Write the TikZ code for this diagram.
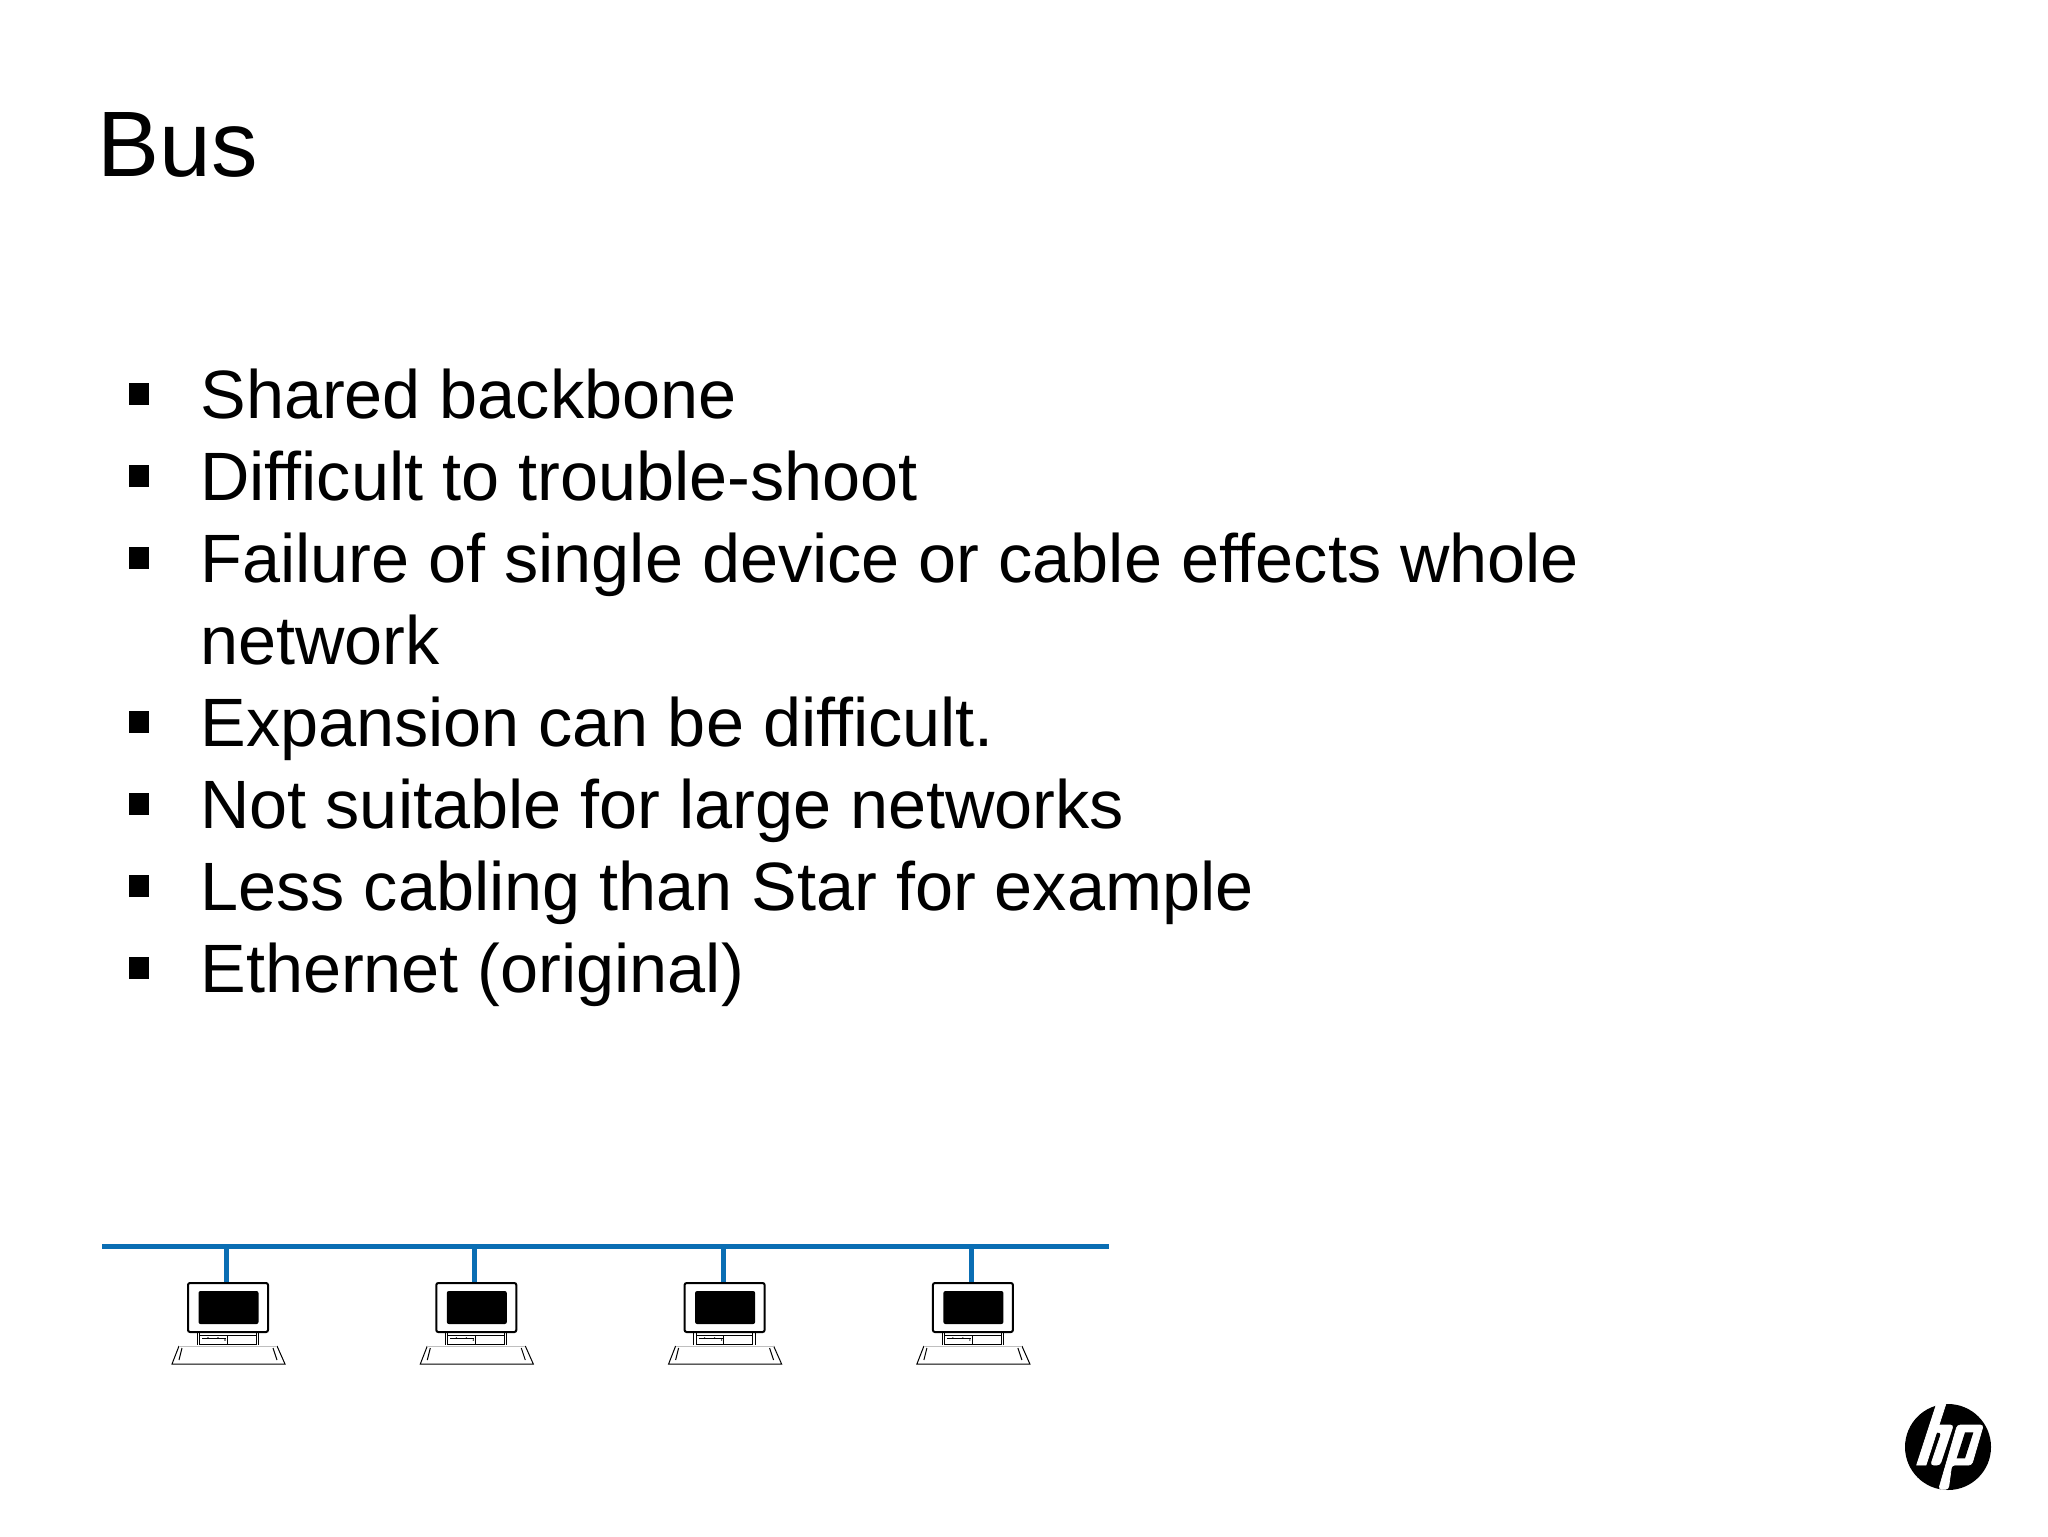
\documentclass[tikz,border=0pt]{standalone}
\usepackage{fontspec}
\setmainfont{Liberation Sans}
\definecolor{busblue}{HTML}{0A6EB4}
\tikzset{
 x=0.5pt,y=-0.5pt,
 title/.style={anchor=base west,inner sep=0,font=\fontsize{46.5}{46.5}\selectfont},
 body/.style={anchor=base west,inner sep=0,font=\fontsize{34.2}{34.2}\selectfont},
 bullet/.style={fill=black,inner sep=0,minimum width=10pt,minimum height=11pt,draw=none},
 wire/.style={draw=busblue,line width=2.5pt},
 monitor/.style={draw=black,line width=1pt,rounded corners=1pt,fill=white,minimum width=40pt,minimum height=24.5pt,inner sep=0},
 screen/.style={fill=black,rounded corners=1pt,minimum width=30pt,minimum height=16.5pt,inner sep=0},
 thinline/.style={draw=black,line width=0.35pt},
 kbd/.style={draw=black,line width=0.5pt},
 logo/.style={fill=white,draw=white,line width=0.35pt},
}
\newcommand{\computer}[2]{%
 \begin{scope}[shift={(#2,0)}]
  \draw[thinline] (197,1332)--(197,1345) (199.3,1332)--(199.3,1345) (256,1332)--(256,1345) (258.3,1332)--(258.3,1345);
  \draw[thinline] (199.3,1335)--(256,1335) (199.3,1344)--(256,1344) (227,1335)--(227,1345);
  \draw[thinline] (202,1338)--(226,1338);
  \fill (208,1338) circle (0.8) (218,1338) circle (0.8) (225,1340) circle (0.8);
  \draw[kbd] (179,1346)--(172,1364)--(285,1364)--(277,1346);
  \draw[thinline,draw=black!25] (179,1346)--(277,1346);
  \draw[kbd] (182,1348)--(179,1360) (273,1348)--(277,1360);
  \node[monitor] (m#1) at (228,1307.5) {};
  \node[screen] (s#1) at (228.5,1307.5) {};
  \coordinate (t#1) at (226.5,1246);
  \draw[wire] (t#1) -- (t#1 |- m#1.north);
 \end{scope}}
\begin{document}
\begin{tikzpicture}
\useasboundingbox (0,0) rectangle (2048,1536);
\fill[white] (0,0) rectangle (2048,1536);
\node[title] (ttl) at (97,176) {Bus};
\foreach \i/\yy/\t in {1/418/Shared backbone,2/500/Difficult to trouble-shoot,3/582/Failure of single device or cable effects whole,5/746/Expansion can be difficult.,6/828/Not suitable for large networks,7/910/Less cabling than Star for example,8/992/Ethernet (original)}{
 \node[bullet] (b\i) at (139,\yy-24.5) {};
 \node[body] (l\i) at (200,\yy) {\t};
}
\node[body] (l4) at (200,664) {network};
\coordinate (busl) at (102,1246);
\coordinate (busr) at (1109,1246);
\draw[wire] (busl) -- (busr);
\computer{1}{0}
\computer{2}{248.3}
\computer{3}{496.6}
\computer{4}{744.9}
% HP logo
\fill[black] (1948,1447) circle (43);
\begin{scope}[shift={(1900,1400)},x=0.16667pt,y=-0.16667pt]
 \fill[logo] (110,10)--(138,10)--(78,195)--(50,195)--cycle;
 \fill[logo,rounded corners=1.5pt] (98,75)--(160,75)--(120,195)--(92,195)--(125,97)--(91,97)--cycle;
 \fill[logo,rounded corners=1.5pt] (172,75)--(250,75)--(215,195)--(155,195)--(145,268)--(116,268)--cycle;
 \fill[black] (195,97)--(220,97)--(195,175)--(170,175)--cycle;
\end{scope}
\end{tikzpicture}
\end{document}
